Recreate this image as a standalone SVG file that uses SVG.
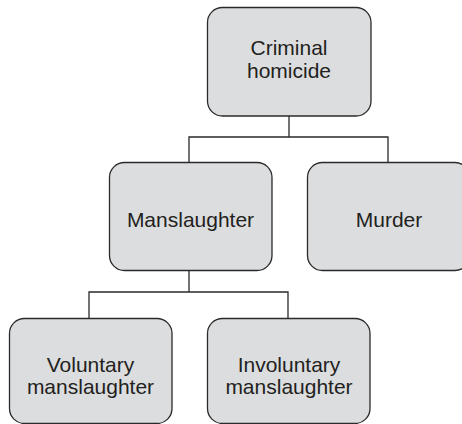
<svg xmlns="http://www.w3.org/2000/svg" width="462" height="424" viewBox="0 0 462 424">
<style>
.box{fill:#dcdddf;stroke:#2a2a2a;stroke-width:1.3}
.lbl{font-family:"Liberation Sans",Arial,sans-serif;font-size:21px;fill:#231f20;text-anchor:middle}
.conn{fill:none;stroke:#2a2a2a;stroke-width:1.3}
</style>
<rect width="462" height="424" fill="#ffffff"/>
<g id="connectors">
<path class="conn" d="M289 116V137M189 162V137H388V162"/>
<path class="conn" d="M189 270V292M89 318V292H288V318"/>
</g>
<g id="criminal-homicide">
<rect class="box" x="207.5" y="7.5" width="163.5" height="108.5" rx="15"/>
<text class="lbl" x="289" y="55">Criminal</text>
<text class="lbl" x="289" y="78">homicide</text>
</g>
<g id="manslaughter">
<rect class="box" x="109.5" y="162.5" width="162.5" height="108" rx="15"/>
<text class="lbl" x="190.5" y="226.5">Manslaughter</text>
</g>
<g id="murder">
<rect class="box" x="307.5" y="162.5" width="162.5" height="108" rx="15"/>
<text class="lbl" x="389" y="226.5">Murder</text>
</g>
<g id="voluntary-manslaughter">
<rect class="box" x="9.5" y="318.5" width="162.5" height="105" rx="15"/>
<text class="lbl" x="90.5" y="371.5">Voluntary</text>
<text class="lbl" x="90.5" y="394">manslaughter</text>
</g>
<g id="involuntary-manslaughter">
<rect class="box" x="207.5" y="318.5" width="162.5" height="105" rx="15"/>
<text class="lbl" x="289" y="371.5">Involuntary</text>
<text class="lbl" x="289" y="394">manslaughter</text>
</g>
</svg>
